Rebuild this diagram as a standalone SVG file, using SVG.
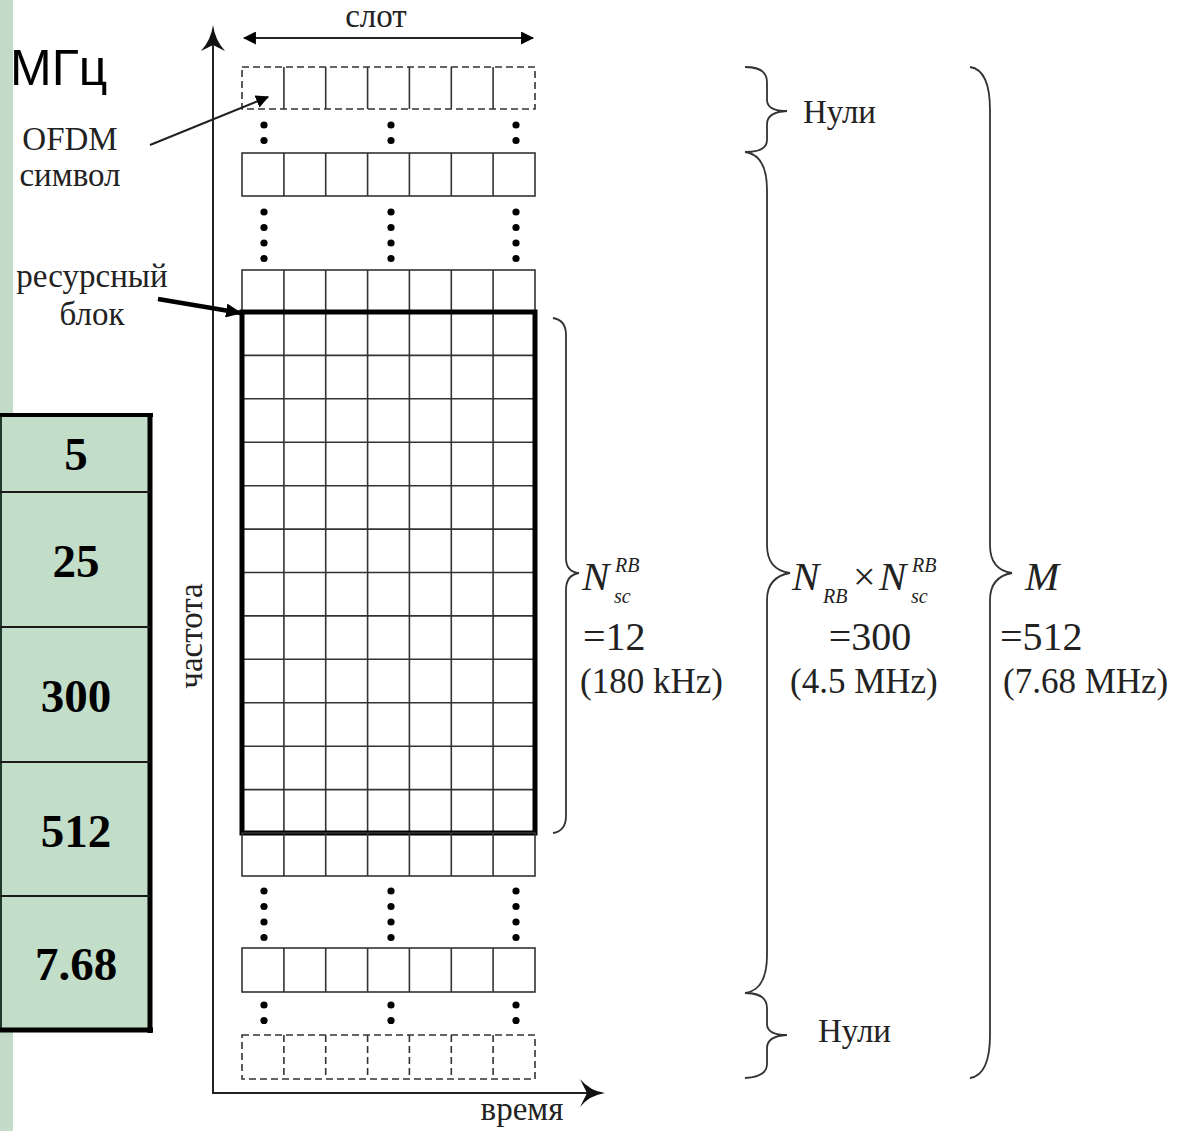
<svg xmlns="http://www.w3.org/2000/svg" width="1181" height="1131" viewBox="0 0 1181 1131">
<style>
.s{font-family:"Liberation Serif","Times New Roman",serif;fill:#222}
.l{font-size:33px}
.mi{font-style:italic}
.tb{font-family:"Liberation Serif","Times New Roman",serif;font-weight:bold;font-size:47px;fill:#000;text-anchor:middle}
.c{fill:none;stroke:#333;stroke-width:1.6}
.d{fill:none;stroke:#333;stroke-width:1.6;stroke-dasharray:7,4}
.k{fill:none;stroke:#000;stroke-width:5}
.br{fill:none;stroke:#333;stroke-width:1.8}
.ax{stroke:#222;stroke-width:2;fill:none}
.dot{fill:#000}
</style>
<defs>
<marker id="ah" viewBox="0 0 12 12" refX="11" refY="6" markerWidth="13" markerHeight="13" markerUnits="userSpaceOnUse" orient="auto-start-reverse">
<path d="M0,0 L12,6 L0,12 Z" fill="#000"/>
</marker>
<marker id="ah2" viewBox="0 0 16 14" refX="15" refY="7" markerWidth="16" markerHeight="14" markerUnits="userSpaceOnUse" orient="auto">
<path d="M0,0 L16,7 L0,14 Z" fill="#000"/>
</marker>
<g id="dots4"><circle cx="0" cy="0" r="3.6"/><circle cx="0" cy="15.5" r="3.6"/><circle cx="0" cy="31" r="3.6"/><circle cx="0" cy="46.5" r="3.6"/></g>
<g id="dots2"><circle cx="0" cy="0" r="3.6"/><circle cx="0" cy="15.5" r="3.6"/></g>
</defs>
<rect width="1181" height="1131" fill="#fff"/>

<!-- left green strip and table -->
<g id="strip"><rect x="0" y="0" width="13" height="1131" fill="#c3dcc8"/></g>
<g id="table">
<rect x="0" y="414" width="150" height="616" fill="#c2ddc8"/>
<line x1="1" y1="413" x2="1" y2="1032" stroke="#1e3a2a" stroke-width="2"/>
<line x1="0" y1="415" x2="153" y2="415" stroke="#000" stroke-width="4"/>
<line x1="150" y1="413" x2="150" y2="1033" stroke="#000" stroke-width="5"/>
<line x1="0" y1="1030" x2="153" y2="1030" stroke="#000" stroke-width="5"/>
<g stroke="#1a1a1a" stroke-width="2">
<line x1="0" y1="492" x2="150" y2="492"/>
<line x1="0" y1="627" x2="150" y2="627"/>
<line x1="0" y1="762" x2="150" y2="762"/>
<line x1="0" y1="896" x2="150" y2="896"/>
</g>
<text class="tb" x="76" y="470">5</text>
<text class="tb" x="76" y="577">25</text>
<text class="tb" x="76" y="712">300</text>
<text class="tb" x="76" y="847">512</text>
<text class="tb" x="76" y="980">7.68</text>
</g>
<g id="unit"><text x="10" y="85" font-family="Liberation Sans, Arial, sans-serif" font-size="50" fill="#000">МГц</text></g>

<!-- axes -->
<g id="axes">
<line class="ax" x1="213" y1="1093" x2="213" y2="34"/>
<path d="M213,25 Q215,40 225,51 L213,45 L201,51 Q211,40 213,25 Z" fill="#111"/>
<line class="ax" x1="212" y1="1093" x2="596" y2="1093"/>
<path d="M605,1093 Q590,1095 580,1107 L587,1093 L580,1079 Q590,1091 605,1093 Z" fill="#111"/>
<text class="s l" transform="translate(202,636) rotate(-90)" text-anchor="middle">частота</text>
<text class="s l" x="522" y="1120" text-anchor="middle">время</text>
</g>

<!-- slot -->
<g id="slot">
<line x1="244" y1="38" x2="533" y2="38" stroke="#222" stroke-width="2" marker-start="url(#ah)" marker-end="url(#ah)"/>
<text class="s l" x="376" y="27" text-anchor="middle">слот</text>
</g>

<!-- grid rows -->
<g id="row-null-top">
<rect class="d" x="242" y="67" width="293" height="42"/>
<path class="c" d="M283.9,67V109M325.7,67V109M367.6,67V109M409.4,67V109M451.3,67V109M493.1,67V109"/>
</g>
<g id="row2">
<rect class="c" x="242" y="153" width="293" height="43"/>
<path class="c" d="M283.9,153V196M325.7,153V196M367.6,153V196M409.4,153V196M451.3,153V196M493.1,153V196"/>
</g>
<g id="row3">
<rect class="c" x="242" y="270" width="293" height="42"/>
<path class="c" d="M283.9,270V312M325.7,270V312M367.6,270V312M409.4,270V312M451.3,270V312M493.1,270V312"/>
</g>
<g id="resource-block">
<path class="c" d="M283.9,312V833M325.7,312V833M367.6,312V833M409.4,312V833M451.3,312V833M493.1,312V833"/>
<path class="c" d="M242,355.4H535M242,398.8H535M242,442.3H535M242,485.7H535M242,529.1H535M242,572.5H535M242,615.9H535M242,659.3H535M242,702.8H535M242,746.2H535M242,789.6H535"/>
<rect class="k" x="242" y="312" width="293" height="521"/>
</g>
<g id="row-below">
<rect class="c" x="242" y="833" width="293" height="43"/>
<path class="c" d="M283.9,833V876M325.7,833V876M367.6,833V876M409.4,833V876M451.3,833V876M493.1,833V876"/>
</g>
<g id="row5">
<rect class="c" x="242" y="948" width="293" height="44"/>
<path class="c" d="M283.9,948V992M325.7,948V992M367.6,948V992M409.4,948V992M451.3,948V992M493.1,948V992"/>
</g>
<g id="row-null-bottom">
<rect class="d" x="242" y="1035" width="293" height="44"/>
<path class="d" d="M283.9,1035V1079M325.7,1035V1079M367.6,1035V1079M409.4,1035V1079M451.3,1035V1079M493.1,1035V1079"/>
</g>

<!-- dots -->
<g id="dots" class="dot">
<use href="#dots2" x="264" y="125"/><use href="#dots2" x="391" y="125"/><use href="#dots2" x="516" y="125"/>
<use href="#dots4" x="264" y="212"/><use href="#dots4" x="391" y="212"/><use href="#dots4" x="516" y="212"/>
<use href="#dots4" x="264" y="891"/><use href="#dots4" x="391" y="891"/><use href="#dots4" x="516" y="891"/>
<use href="#dots2" x="264" y="1005"/><use href="#dots2" x="391" y="1005"/><use href="#dots2" x="516" y="1005"/>
</g>

<!-- left labels -->
<g id="label-ofdm">
<text class="s l" x="70" y="150" text-anchor="middle">OFDM</text>
<text class="s l" x="70" y="186" text-anchor="middle">символ</text>
</g>
<g id="label-rb">
<text class="s l" x="92" y="287" text-anchor="middle">ресурсный</text>
<text class="s l" x="92" y="325" text-anchor="middle">блок</text>
</g>

<!-- connectors -->
<g id="connectors">
<line x1="150" y1="145" x2="268" y2="97" stroke="#222" stroke-width="2" marker-end="url(#ah)"/>
<line x1="158" y1="299" x2="241" y2="313" stroke="#000" stroke-width="4.5" marker-end="url(#ah2)"/>
</g>

<!-- braces -->
<g id="brace-sc">
<path class="br" d="M553,318 Q566,320 566,335 L566,558 Q566,572 579,573 Q566,575 566,590 L566,816 Q566,831 553,833"/>
<text class="s mi" x="582" y="590" font-size="41">N</text>
<text class="s mi" x="615" y="572" font-size="20">RB</text>
<text class="s mi" x="614" y="603" font-size="20">sc</text>
<text class="s" x="583" y="650" font-size="40">=12</text>
<text class="s" x="580" y="693" font-size="35">(180 kHz)</text>
</g>
<g id="brace-null-top">
<path class="br" d="M745,67 Q767,67 767,82 L767,100 Q767,111 787,111 Q767,112 767,124 L767,140 Q767,152 745,152"/>
<text class="s l" x="803" y="123">Нули</text>
</g>
<g id="brace-300">
<path class="br" d="M745,152 Q767,155 767,190 L767,545 Q767,570 790,573 Q767,577 767,600 L767,955 Q767,990 745,993"/>
<text class="s mi" x="792" y="590" font-size="41">N</text>
<text class="s mi" x="823" y="603" font-size="20">RB</text>
<text class="s" x="853" y="590" font-size="40">×</text>
<text class="s mi" x="879" y="590" font-size="41">N</text>
<text class="s mi" x="912" y="572" font-size="20">RB</text>
<text class="s mi" x="911" y="603" font-size="20">sc</text>
<text class="s" x="870" y="650" font-size="40" text-anchor="middle">=300</text>
<text class="s" x="790" y="693" font-size="35">(4.5 MHz)</text>
</g>
<g id="brace-null-bottom">
<path class="br" d="M745,993 Q767,993 767,1008 L767,1024 Q767,1035 787,1035 Q767,1036 767,1048 L767,1064 Q767,1077 745,1078"/>
<text class="s l" x="818" y="1042">Нули</text>
</g>
<g id="brace-m">
<path class="br" d="M970,67 Q990,70 990,110 L990,545 Q990,570 1012,573 Q990,577 990,600 L990,1035 Q990,1075 970,1078"/>
<text class="s mi" x="1025" y="590" font-size="41">M</text>
<text class="s" x="1000" y="650" font-size="40">=512</text>
<text class="s" x="1003" y="693" font-size="35">(7.68 MHz)</text>
</g>
</svg>
